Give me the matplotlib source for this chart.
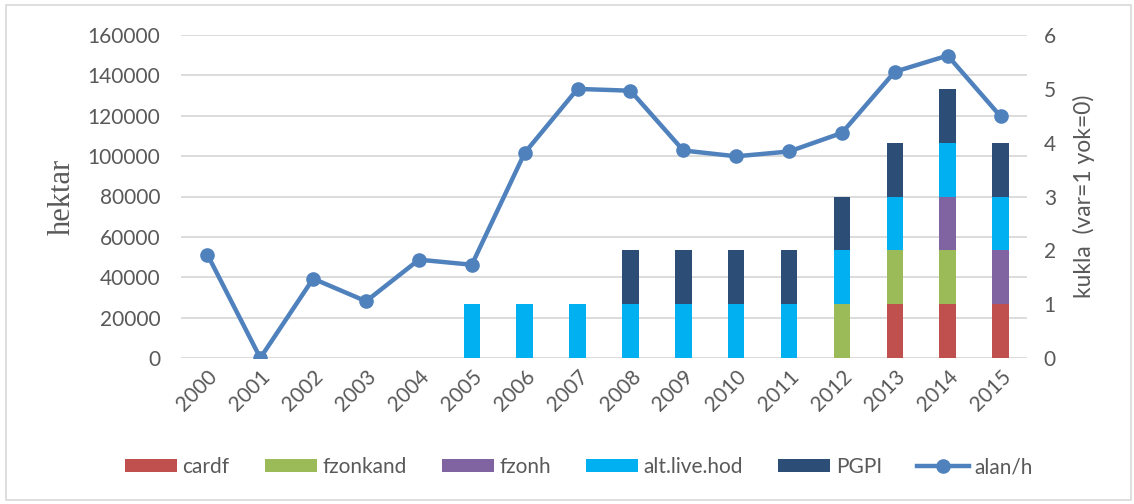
#!/usr/bin/env python3
import matplotlib
matplotlib.use("Agg")
import matplotlib.pyplot as plt
from matplotlib.patches import Rectangle
import numpy as np

plt.rcParams['font.family'] = ['Lato', 'DejaVu Sans']

years = [str(y) for y in range(2000, 2016)]

# stacked bars (right axis, var=1 yok=0)
cardf = [0, 0, 0, 0, 0, 0, 0, 0, 0, 0, 0, 0, 0, 1, 1, 1]
fzonkand = [0, 0, 0, 0, 0, 0, 0, 0, 0, 0, 0, 0, 1, 1, 1, 0]
fzonh = [0, 0, 0, 0, 0, 0, 0, 0, 0, 0, 0, 0, 0, 0, 1, 1]
alt_live_hod = [0, 0, 0, 0, 0, 1, 1, 1, 1, 1, 1, 1, 1, 1, 1, 1]
pgpi = [0, 0, 0, 0, 0, 0, 0, 0, 1, 1, 1, 1, 1, 1, 1, 1]

# line (left axis, hektar)
alan_h = [51200, 0, 39300, 28100, 48700, 46200, 101600, 133300, 132400,
          102800, 99900, 102300, 111500, 141800, 149800, 119700]

series = [("cardf", cardf, "#C0504D"),
          ("fzonkand", fzonkand, "#9BBB59"),
          ("fzonh", fzonh, "#8064A2"),
          ("alt.live.hod", alt_live_hod, "#00B0F0"),
          ("PGPI", pgpi, "#2C4D75")]

TXT = "#595959"
GRID = "#D9D9D9"
FS = 15

fig = plt.figure(figsize=(11.34, 5.04), dpi=100)
fig.patches.append(Rectangle((6 / 1134, 4 / 504), 1125 / 1134, 495 / 504,
                             transform=fig.transFigure, fill=False,
                             edgecolor="#D9D9D9", lw=1.2))

ax = fig.add_axes([181 / 1134, 1 - 358 / 504, 846 / 1134, 323 / 504])
x = np.arange(len(years))

ax.set_ylim(0, 160000)
ax.set_yticks(np.arange(0, 160001, 20000))
ax.set_xlim(-0.5, len(years) - 0.5)
ax.grid(axis="y", color=GRID, lw=1.3)
ax.set_axisbelow(True)
for s in ax.spines.values():
    s.set_visible(False)
ax.tick_params(axis="y", length=0, labelsize=FS, labelcolor=TXT, pad=15)
ax.tick_params(axis="x", length=0, labelsize=FS, labelcolor=TXT, pad=6)
ax.set_xticks(x)
ax.set_xticklabels(years, rotation=45, ha="right", rotation_mode="anchor")
ax.set_ylabel("hektar", family="Liberation Serif", fontsize=22, color=TXT,
              labelpad=8)

# bars on right axis
ax2 = ax.twinx()
ax2.set_ylim(0, 6)
ax2.set_yticks(range(0, 7))
bottom = np.zeros(len(years))
handles = []
for name, vals, col in series:
    vals = np.array(vals)
    b = ax2.bar(x, vals, 0.31, bottom=bottom, color=col, label=name,
                linewidth=0)
    handles.append(b)
    bottom += vals
for s in ax2.spines.values():
    s.set_visible(False)
ax2.tick_params(axis="y", length=0, labelsize=FS, labelcolor=TXT, pad=12)
ax2.set_ylabel("kukla  (var=1 yok=0)", fontsize=16.5, color=TXT, labelpad=12)

# line on top
ax3 = ax.twinx()
ax3.set_ylim(0, 160000)
ax3.set_yticks([])
for s in ax3.spines.values():
    s.set_visible(False)
ln, = ax3.plot(x, alan_h, color="#4F81BD", lw=3.2, marker="o",
               markersize=9.5, label="alan/h")
handles.append(ln)

fig.legend(handles=handles, labels=[h.get_label() for h in handles],
           loc="center", bbox_to_anchor=(579 / 1134, 1 - 467 / 504),
           ncol=6, frameon=False, fontsize=FS, labelcolor=TXT,
           handlelength=2.5, handletextpad=0.25, columnspacing=1.7,
           handleheight=0.55)

plt.savefig("out.png", dpi=100)
